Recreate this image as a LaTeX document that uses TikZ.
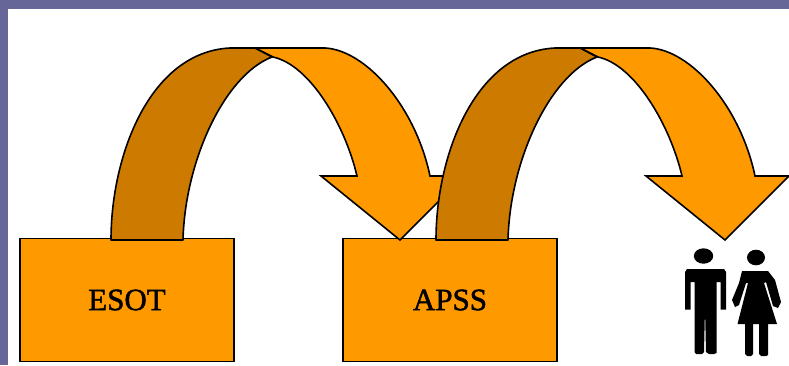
\documentclass[tikz,border=0pt]{standalone}
\usepackage{fontspec}
\setmainfont{Liberation Serif}
\newfontfamily\boxfont[FakeBold=1.5]{Liberation Serif}
\definecolor{frame}{HTML}{666699}
\definecolor{orangeA}{HTML}{FF9900}
\definecolor{orangeB}{HTML}{CC7A00}
\tikzset{
  boxshape/.style={draw=black,line width=1.6pt,fill=orangeA,minimum width=214pt,minimum height=123pt,inner sep=0pt,font=\boxfont\fontsize{31}{31}\selectfont},
  headpart/.style={draw=black,line width=1.6pt,fill=orangeA,line join=miter},
  bandpart/.style={draw=black,line width=1.6pt,fill=orangeB,line join=round},
  figure part/.style={fill=black}
}
\newcommand{\bigarrow}[1]{%
  \begin{scope}[xshift=#1pt]
    \path[headpart] (255,48) -- (325,48)
      .. controls (365,50) and (415,105) .. (430,176)
      -- (464,176) -- (400,240) -- (321,176) -- (357,176)
      .. controls (345,125) and (310,65) .. (273,57) -- cycle;
    \path[bandpart] (111,240)
      .. controls (111,155) and (150,52) .. (230,48)
      -- (255,48) -- (272,57)
      .. controls (225,75) and (185,160) .. (183,240) -- cycle;
  \end{scope}}
\begin{document}
\begin{tikzpicture}[x=1pt,y=-1pt]
  \useasboundingbox (0,0) rectangle (789,365);
  \fill[white] (0,0) rectangle (789,365);
  \fill[frame] (0,0) rectangle (789,8.5);
  \fill[frame] (0,0) rectangle (8,365);
  \node[boxshape] (esot) at (127,300) {ESOT};
  \node[boxshape] (apss) at (450,300) {APSS};
  \bigarrow{0}
  \bigarrow{325}
  % man
  \fill[figure part] (703.5,256) ellipse [x radius=9.7,y radius=7.7];
  \fill[figure part] (687,269) -- (724,269) -- (726,272) -- (726,309.5) -- (720.5,309.5) -- (720.5,282) -- (716.5,282)
     -- (716.5,353) -- (714,354) -- (709,354) -- (706,352) -- (705,309) -- (704,352) -- (702,354) -- (696,354) -- (694.5,352)
     -- (694.5,282) -- (690.5,282) -- (690.5,309.5) -- (685,309.5) -- (685,272) -- cycle;
  % woman
  \fill[figure part] (756,257.5) ellipse [x radius=9,y radius=7.8];
  \fill[figure part] (742,271) -- (768,271) -- (775,280) -- (781,302) -- (778,308) -- (773,306) -- (766,282) -- (764,283)
     -- (777,324) -- (768,324) -- (768,355) -- (766,356) -- (761,356) -- (759,354) -- (759,324)
     -- (753,324) -- (753,354) -- (751,356) -- (747,356) -- (745,354) -- (745,324) -- (737.5,324) -- (748,283) -- (746,283)
     -- (739,305) -- (735,307) -- (732,300) -- (739,283) -- cycle;
\end{tikzpicture}
\end{document}
